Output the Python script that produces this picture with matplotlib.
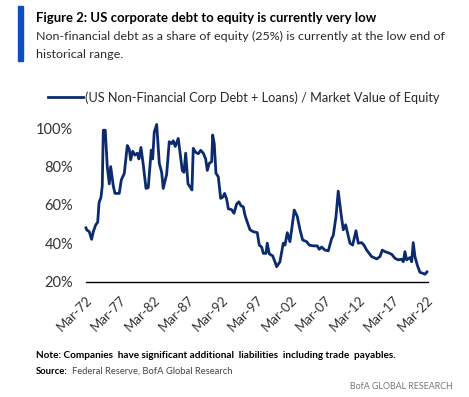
import matplotlib
matplotlib.use("Agg")
import matplotlib.pyplot as plt
from matplotlib.lines import Line2D
from matplotlib.patches import Rectangle

# ---------------- data ----------------
years = [1972.17, 1972.27, 1972.65, 1973.0, 1973.24, 1973.59, 1973.89, 1974.08, 1974.37, 1974.56,
         1974.71, 1975.0, 1975.29, 1975.59, 1975.79, 1976.17, 1976.42, 1977.05, 1977.35, 1977.79,
         1978.23, 1978.52, 1978.72, 1979.02, 1979.35, 1979.69, 1979.94, 1980.23, 1980.57, 1980.97,
         1981.3, 1981.74, 1981.95, 1982.18, 1982.54, 1982.92, 1983.27, 1983.5, 1984.0, 1984.38,
         1984.74, 1984.97, 1985.26, 1985.7, 1985.95, 1986.29, 1986.54, 1986.79, 1987.13, 1987.71,
         1987.9, 1988.25, 1988.64, 1988.99, 1989.37, 1989.72, 1989.96, 1990.25, 1990.6, 1990.75,
         1990.98, 1991.23, 1991.57, 1991.92, 1992.21, 1992.5, 1992.8, 1993.04, 1993.53, 1993.87,
         1994.27, 1994.6, 1994.9, 1995.24, 1995.48, 1995.82, 1996.22, 1996.7, 1997.29, 1997.58,
         1997.93, 1998.17, 1998.56, 1998.75, 1999.05, 1999.54, 1999.88, 2000.13, 2000.61, 2001.1,
         2001.35, 2001.69, 2002.08, 2002.33, 2002.71, 2003.15, 2003.55, 2003.94, 2004.53, 2004.91,
         2005.5, 2006.08, 2006.38, 2006.73, 2007.21, 2007.7, 2008.2, 2008.43, 2008.83, 2009.16,
         2009.56, 2009.9, 2010.25, 2010.48, 2010.88, 2011.27, 2011.76, 2012.1, 2012.59, 2012.93,
         2013.33, 2014.06, 2014.8, 2015.28, 2015.62, 2016.01, 2016.5, 2017.0, 2017.48, 2017.96,
         2018.46, 2018.7, 2018.94, 2019.19, 2019.68, 2019.93, 2020.16, 2020.41, 2020.75, 2021.14,
         2021.54, 2021.88, 2022.17]
debt_to_equity = [48, 47, 46, 42, 46, 49.5, 51, 61, 64, 70,
                  99, 99, 80, 71, 80, 70, 66, 66, 73, 76.5,
                  91, 89, 83.5, 88, 86, 87, 84, 90, 81, 68.6,
                  69, 88.6, 84, 98, 102, 81.7, 77, 68.6, 76, 93,
                  92, 93.5, 90.5, 94.7, 87.5, 78, 77, 87, 71, 67.8,
                  89.5, 87.5, 86.7, 88.5, 87, 84, 78, 81.7, 82.6, 96.5,
                  92, 76.5, 74.7, 63.4, 64, 66, 63, 58, 57.5, 55.6,
                  60.5, 61.6, 59.5, 59, 54.7, 51, 47, 46, 45.5, 39,
                  38, 34.7, 34.7, 40, 34.4, 33.4, 30.3, 27.7, 30.3, 40,
                  39, 45.5, 40.8, 47, 57.3, 54, 47, 41.7, 40.8, 39,
                  38.6, 38.6, 36.8, 38, 36.4, 36, 42.5, 44, 53.8, 67.2,
                  55.7, 47, 49.6, 46, 40, 39, 46.5, 40, 40.3, 39,
                  36.4, 33, 31.8, 33, 36.4, 35.6, 35, 34.2, 32.1, 31.3,
                  31.6, 30.3, 35.6, 31.3, 32.5, 30.3, 40.3, 33, 28.6, 24.8,
                  24.3, 23.8, 25]

tick_years = [1972.17, 1977.17, 1982.17, 1987.17, 1992.17, 1997.17, 2002.17, 2007.17, 2012.17, 2017.17, 2022.17]
tick_labels = ["Mar-72", "Mar-77", "Mar-82", "Mar-87", "Mar-92", "Mar-97", "Mar-02", "Mar-07", "Mar-12", "Mar-17", "Mar-22"]
y_ticks = [20, 40, 60, 80, 100]
y_labels = ["20%", "40%", "60%", "80%", "100%"]

title = "Figure 2: US corporate debt to equity is currently very low"
subtitle1 = "Non-financial debt as a share of equity (25%) is currently at the low end of"
subtitle2 = "historical range."
legend_label = "(US Non-Financial Corp Debt + Loans) / Market Value of Equity"
note = "Note: Companies  have significant additional  liabilities  including trade  payables."
source_bold = "Source:"
source_text = "Federal Reserve, BofA Global Research"
brand = "BofA GLOBAL RESEARCH"

# ---------------- figure ----------------
W, H = 469, 397
plt.rcParams['font.family'] = ['Lato', 'DejaVu Sans']
fig = plt.figure(figsize=(W / 100, H / 100), dpi=100)
fig.patch.set_facecolor("white")

NAVY = "#0C2B6E"
BLUE = "#0B4DC2"
TXT = "#2a2a2a"

def fx(px):
    return px / W

def fy(py):
    return 1 - py / H

# axes: x 85.5..427.5 px, y 118.7..281.5 px
ax_l, ax_r, ax_t, ax_b = 85.5, 427.5, 118.7, 281.5
ax = fig.add_axes([fx(ax_l), fy(ax_b), (ax_r - ax_l) / W, (ax_b - ax_t) / H])
ax.plot(years, debt_to_equity, color=NAVY, lw=2.0, solid_joinstyle="round", clip_on=False)
ax.set_xlim(1972.1, 2022.25)
ax.set_ylim(20, 105)
for s in ["top", "right", "left"]:
    ax.spines[s].set_visible(False)
ax.spines["bottom"].set_color("black")
ax.spines["bottom"].set_linewidth(1.0)
ax.set_yticks(y_ticks)
ax.set_yticklabels(y_labels, fontsize=10.5, color="#333333")
ax.set_xticks(tick_years)
ax.set_xticklabels(tick_labels, fontsize=9.5, color="#333333", rotation=45,
                   ha="right", va="top", rotation_mode="anchor")
ax.tick_params(axis="both", length=0)
ax.tick_params(axis="y", pad=9)
ax.tick_params(axis="x", pad=9)

# ---------------- header / footer ----------------
fig.patches.append(Rectangle((fx(18.3), fy(60.5)), (22.5 - 18.3) / W, (60.5 - 6) / H,
                             transform=fig.transFigure, color=BLUE, zorder=5))

texts = []
def put(x, y, s, target_w, ha="left", **kw):
    t = fig.text(fx(x), fy(y), s, ha=ha, va="baseline", **kw)
    texts.append((t, target_w))
    return t

put(36, 21.5, title, 342, fontsize=10, fontweight="bold", color="black")
put(36, 40.5, subtitle1, 407, fontsize=10, color=TXT)
put(36, 57.5, subtitle2, None, fontsize=10, color=TXT)
put(85, 101.5, legend_label, 356, fontsize=11, color=TXT)
fig.lines.append(Line2D([fx(48.3), fx(82.7)], [fy(96.7), fy(96.7)], transform=fig.transFigure,
                        color=NAVY, lw=2.0))
put(36, 358.5, note, 359, fontsize=7.5, fontweight="bold", color="black")
src_b = put(36, 373.5, source_bold, 31.7, fontsize=7.5, fontweight="bold", color="black")
src_t = put(72.3, 373.5, source_text, 159.4, fontsize=7.5, color="#444444")
put(452.3, 389, brand, 104, ha="right", fontsize=7.5, color="#777777")

# fit text widths to the reference
fig.canvas.draw()
r = fig.canvas.get_renderer()
sub_fs = None
for t, tw in texts:
    if tw is None:
        continue
    w = t.get_window_extent(r).width
    t.set_fontsize(t.get_fontsize() * tw / w)
    if t.get_text() == subtitle1:
        sub_fs = t.get_fontsize()
for t, tw in texts:
    if t.get_text() == subtitle2 and sub_fs:
        t.set_fontsize(sub_fs)

fig.savefig("out.png", dpi=100, facecolor="white")
